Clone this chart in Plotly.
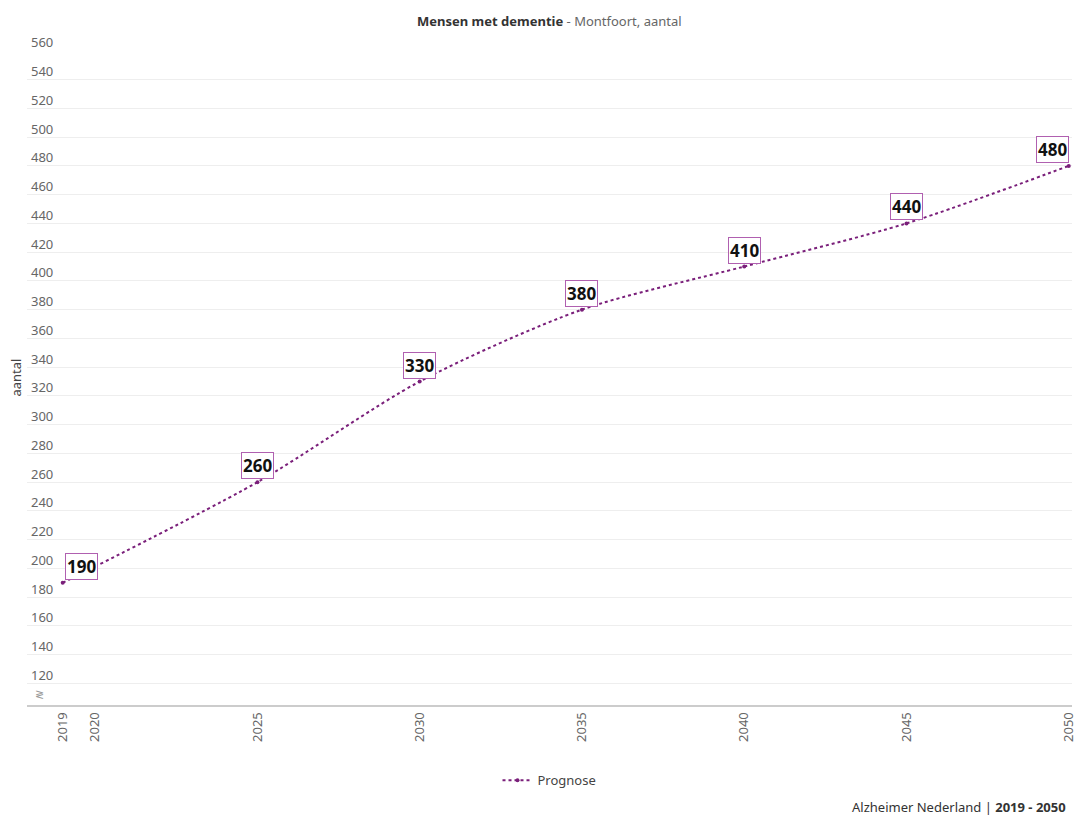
import plotly.graph_objects as go

years = [2019, 2025, 2030, 2035, 2040, 2045, 2050]
values = [190, 260, 330, 380, 410, 440, 480]
x_ticks = [2019, 2020, 2025, 2030, 2035, 2040, 2045, 2050]
y_ticks = list(range(120, 561, 20))

LINE = "#7a1f7a"
FONT = "Noto Sans"

fig = go.Figure()
fig.add_trace(go.Scatter(
    x=years, y=values, mode="lines+markers", name="Prognose",
    line=dict(color=LINE, width=2, dash="dot", shape="spline", smoothing=0.8),
    marker=dict(color=LINE, size=4),
))

annotations = []
for i, (yr, v) in enumerate(zip(years, values)):
    if i == 0:
        xa = "left"
    elif i == len(years) - 1:
        xa = "right"
    else:
        xa = "center"
    annotations.append(dict(
        x=yr, y=v, xref="x", yref="y", text=f"<b>{v}</b>", showarrow=False,
        xanchor=xa, yanchor="bottom", yshift=3, xshift=2 if i == 0 else 0,
        font=dict(family=FONT, size=17, color="#111"),
        bgcolor="white", bordercolor="#b060b0", borderwidth=1, borderpad=1,
    ))

annotations.append(dict(
    x=0.5, y=1, xref="paper", yref="paper", yanchor="bottom", yshift=18,
    text="<b>Mensen met dementie</b><span style='color:#666'> - Montfoort, aantal</span>",
    showarrow=False, font=dict(family=FONT, size=13, color="#333"),
))
annotations.append(dict(
    x=1, y=0, xref="paper", yref="paper", xanchor="right", yanchor="bottom",
    xshift=-4, yshift=-113,
    text="Alzheimer Nederland | <b>2019 - 2050</b>", showarrow=False,
    font=dict(family=FONT, size=13, color="#333"),
))
annotations.append(dict(
    x=0, y=0.5, xref="paper", yref="paper", xanchor="center", yanchor="middle",
    xshift=-12, textangle=-90,
    text="aantal", showarrow=False,
    font=dict(family=FONT, size=13, color="#444"),
))
annotations.append(dict(
    x=0, y=113, xref="paper", yref="y", xanchor="left", xshift=6, text="≷", showarrow=False,
    font=dict(family=FONT, size=11, color="#999"),
))

fig.update_layout(
    width=1078, height=816,
    margin=dict(l=27, r=6, t=50, b=111, autoexpand=False),
    paper_bgcolor="white", plot_bgcolor="white",
    font=dict(family=FONT, size=13, color="#666"),
    showlegend=True,
    legend=dict(orientation="h", x=0.5, xanchor="center", y=-0.092, yanchor="top",
                font=dict(family=FONT, size=13, color="#444"), itemwidth=30),
    annotations=annotations,
    xaxis=dict(
        range=[2017.9, 2050.1], tickvals=x_ticks, ticktext=[str(t) for t in x_ticks],
        tickangle=-90, showgrid=False, showline=True, linecolor="#ccc", linewidth=2,
        zeroline=False, ticks="", ticklabeloverflow="allow", automargin=False,
        tickfont=dict(family=FONT, size=13, color="#666"),
    ),
    yaxis=dict(
        range=[105, 560.6], tickvals=y_ticks, ticktext=[str(t) for t in y_ticks],
        ticklabelposition="inside", ticklabelshift=-8, ticklabelstandoff=1,
        ticklabeloverflow="allow", automargin=False,
        showgrid=True, gridcolor="#eeeeee", gridwidth=1, zeroline=False,
        showline=False, ticks="",
        tickfont=dict(family=FONT, size=13, color="#666"),
    ),
)

fig.write_html(
    "out.html",
    config={"displayModeBar": False},
    post_script="document.body.style.margin='0';document.body.style.overflow='hidden';",
)
